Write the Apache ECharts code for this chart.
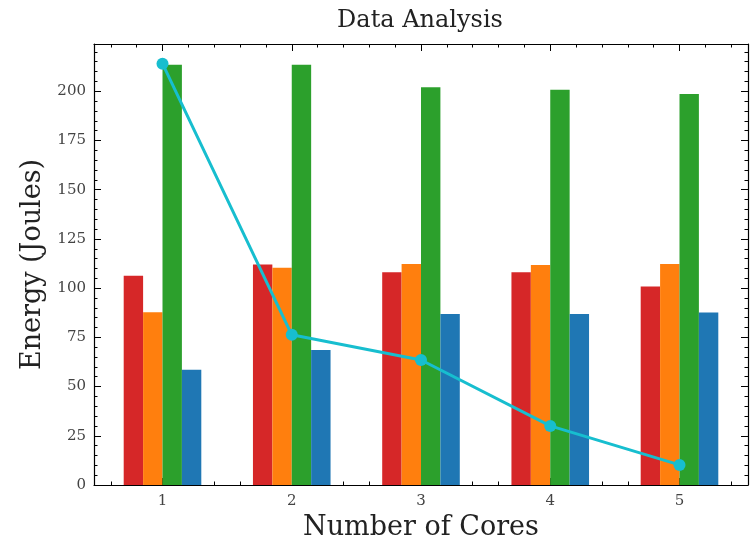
<!DOCTYPE html>
<html><head><meta charset="utf-8">
<script src="https://cdn.jsdelivr.net/npm/echarts@6/dist/echarts.min.js"></script>
<style>html,body{margin:0;padding:0;background:#fff}#c{width:754px;height:546px}</style>
</head><body><div id="c"></div>
<script>
const cores = [1, 2, 3, 4, 5];
const seriesRed = [106.3, 112.0, 108.1, 108.1, 100.8];
const seriesOrange = [87.8, 110.3, 112.2, 111.7, 112.2];
const seriesGreen = [213.5, 213.5, 202.0, 200.8, 198.6];
const seriesBlue = [58.5, 68.6, 86.8, 86.8, 87.6];
const lineValues = [214.0, 76.3, 63.5, 30.0, 10.2];
const xMajorTicks = [1, 2, 3, 4, 5];
const xMinorTicks = [0.6, 0.8, 1.2, 1.4, 1.6, 1.8, 2.2, 2.4, 2.6, 2.8, 3.2, 3.4, 3.6, 3.8, 4.2, 4.4, 4.6, 4.8, 5.2, 5.4];
const yMajorTicks = [0, 25, 50, 75, 100, 125, 150, 175, 200];
const yMinorTicks = [5, 10, 15, 20, 30, 35, 40, 45, 55, 60, 65, 70, 80, 85, 90, 95, 105, 110, 115, 120, 130, 135, 140, 145, 155, 160, 165, 170, 180, 185, 190, 195, 205, 210, 215, 220];

const FONT = 'DejaVu Serif';
const X_MIN = 0.47, X_MAX = 5.53, Y_MIN = 0, Y_MAX = 224;

function pairs(vals) { return cores.map((c, i) => [c, vals[i]]); }

function xAx(pos, major, withLabel) {
  return {
    type: 'value', position: pos, offset: 0, min: X_MIN, max: X_MAX,
    axisLine: { show: major, onZero: false, lineStyle: { color: '#000', width: 1.2 } },
    axisTick: { show: true, inside: true, length: major ? 7 : 3.5, customValues: major ? xMajorTicks : xMinorTicks, lineStyle: { color: '#000', width: 1 } },
    axisLabel: withLabel ? { show: true, customValues: xMajorTicks, fontFamily: FONT, fontSize: 15, color: '#444', margin: 9 } : { show: false },
    splitLine: { show: false }
  };
}
function yAx(pos, major, withLabel) {
  return {
    type: 'value', position: pos, offset: 0, min: Y_MIN, max: Y_MAX,
    axisLine: { show: major, onZero: false, lineStyle: { color: '#000', width: 1.2 } },
    axisTick: { show: true, inside: true, length: major ? 7 : 3.5, customValues: major ? yMajorTicks : yMinorTicks, lineStyle: { color: '#000', width: 1 } },
    axisLabel: withLabel ? { show: true, customValues: yMajorTicks, fontFamily: FONT, fontSize: 15, color: '#444', margin: 8 } : { show: false },
    splitLine: { show: false }
  };
}

const xAxes = [xAx('bottom', true, true), xAx('bottom', false, false), xAx('top', true, false), xAx('top', false, false)];
Object.assign(xAxes[0], { name: 'Number of Cores', nameLocation: 'middle', nameGap: 29, nameTextStyle: { fontFamily: FONT, fontSize: 27, color: '#222' } });
const yAxes = [yAx('left', true, true), yAx('left', false, false), yAx('right', true, false), yAx('right', false, false)];
Object.assign(yAxes[0], { name: 'Energy (Joules)', nameLocation: 'middle', nameGap: 44, nameTextStyle: { fontFamily: FONT, fontSize: 27, color: '#222' } });

const barCommon = { type: 'bar', xAxisIndex: 0, yAxisIndex: 0, barWidth: 19.4, barGap: '0%' };

const chart = echarts.init(document.getElementById('c'), null, { renderer: 'canvas' });
chart.setOption({
  animation: false,
  backgroundColor: '#fff',
  title: { text: 'Data Analysis', left: 420, top: 9, padding: 0, textAlign: 'center', textStyle: { fontFamily: FONT, fontSize: 24, fontWeight: 'normal', color: '#222' } },
  grid: { left: 94, right: 6, top: 44, bottom: 61, containLabel: false },
  xAxis: xAxes,
  yAxis: yAxes,
  series: [
    Object.assign({ name: 'Red', data: pairs(seriesRed), itemStyle: { color: '#d62728' } }, barCommon),
    Object.assign({ name: 'Orange', data: pairs(seriesOrange), itemStyle: { color: '#ff7f0e' } }, barCommon),
    Object.assign({ name: 'Green', data: pairs(seriesGreen), itemStyle: { color: '#2ca02c' } }, barCommon),
    Object.assign({ name: 'Blue', data: pairs(seriesBlue), itemStyle: { color: '#1f77b4' } }, barCommon),
    { name: 'Line', type: 'line', xAxisIndex: 0, yAxisIndex: 0, data: pairs(lineValues), z: 10,
      lineStyle: { color: '#17becf', width: 3 }, itemStyle: { color: '#17becf' },
      symbol: 'circle', symbolSize: 12, showSymbol: true }
  ]
});
</script></body></html>
